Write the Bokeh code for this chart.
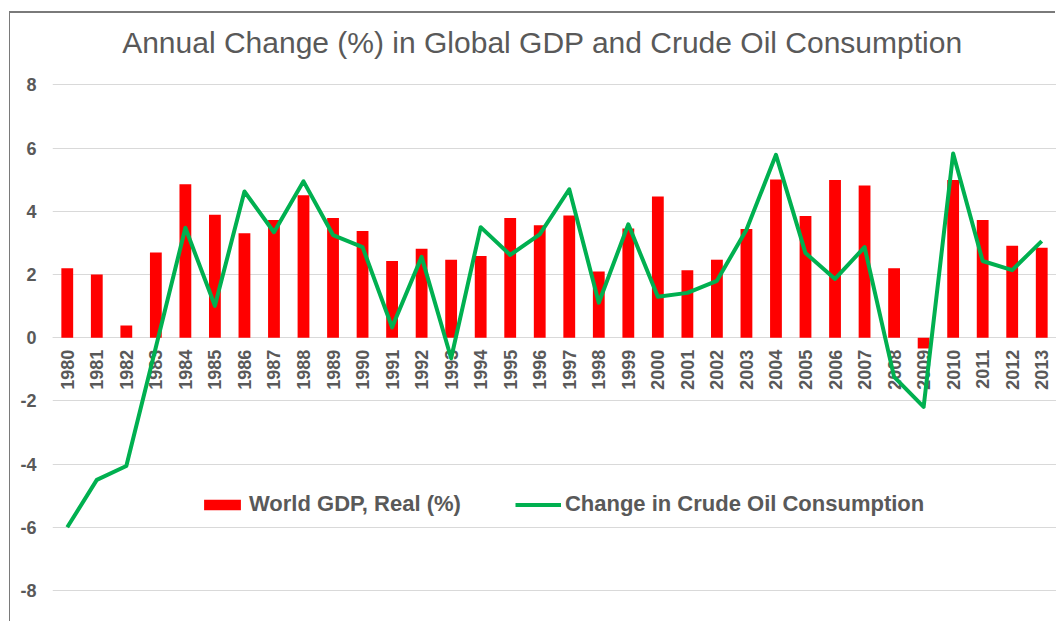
import math
from bokeh.plotting import figure
from bokeh.models import FactorRange, Range1d, FixedTicker, Label, Legend, LegendItem, PrintfTickFormatter
from bokeh.embed import file_html
from bokeh.resources import INLINE

years = ["1980", "1981", "1982", "1983", "1984", "1985", "1986", "1987", "1988", "1989",
         "1990", "1991", "1992", "1993", "1994", "1995", "1996", "1997", "1998", "1999",
         "2000", "2001", "2002", "2003", "2004", "2005", "2006", "2007", "2008", "2009",
         "2010", "2011", "2012", "2013"]

gdp = [2.20, 2.00, 0.39, 2.70, 4.86, 3.89, 3.31, 3.73, 4.51, 3.79,
       3.38, 2.43, 2.82, 2.47, 2.59, 3.79, 3.56, 3.87, 2.10, 3.46,
       4.47, 2.14, 2.47, 3.44, 5.01, 3.85, 4.99, 4.82, 2.20, -0.34,
       4.99, 3.73, 2.91, 2.85]

oil = [-6.00, -4.50, -4.06, -0.30, 3.48, 1.01, 4.63, 3.34, 4.95, 3.25,
       2.87, 0.33, 2.56, -0.65, 3.50, 2.62, 3.27, 4.70, 1.11, 3.59,
       1.30, 1.42, 1.80, 3.42, 5.79, 2.68, 1.86, 2.87, -1.24, -2.19,
       5.83, 2.43, 2.14, 3.06]

y_ticks = [-8, -6, -4, -2, 0, 2, 4, 6, 8]

title_text = "Annual Change (%) in Global GDP and Crude Oil Consumption"
gdp_label = "World GDP, Real (%)"
oil_label = "Change in Crude Oil Consumption"

GRAY = "#595959"
FONT = "Liberation Sans"

p = figure(width=1046, height=610,
           x_range=FactorRange(*years, range_padding=0),
           y_range=Range1d(-9.045, 10.263),
           output_backend="svg", toolbar_location=None,
           min_border_left=42, min_border_right=0,
           min_border_top=0, min_border_bottom=0,
           outline_line_color=None,
           background_fill_color="white", border_fill_color="white")

p.styles = {"box-shadow": "-1px -2px 0px 0px #7a7a7a",
            "margin-top": "13px",
            "margin-left": "10px"}

p.xgrid.visible = False
p.ygrid.grid_line_color = "#d9d9d9"
p.ygrid.grid_line_width = 1
p.ygrid.ticker = FixedTicker(ticks=y_ticks)

bars = p.vbar(x=years, top=gdp, width=0.4, color="#ff0000", line_color=None)
ln = p.line(x=years, y=oil, line_width=4, line_color="#00b050", line_join="round")

yax = p.yaxis[0]
yax.ticker = FixedTicker(ticks=y_ticks)
yax.formatter = PrintfTickFormatter(format="%d")
yax.axis_line_color = None
yax.major_tick_line_color = None
yax.minor_tick_line_color = None
yax.major_tick_out = 0
yax.major_tick_in = 0
yax.major_label_standoff = 16
yax.major_label_text_font = FONT
yax.major_label_text_font_style = "bold"
yax.major_label_text_font_size = "18px"
yax.major_label_text_color = GRAY

xax = p.xaxis[0]
xax.fixed_location = 0
xax.major_label_orientation = math.pi / 2
xax.axis_line_color = "#d9d9d9"
xax.major_tick_line_color = None
xax.minor_tick_line_color = None
xax.major_tick_out = 0
xax.major_tick_in = 0
xax.major_label_standoff = 12
xax.major_label_text_font = FONT
xax.major_label_text_font_style = "bold"
xax.major_label_text_font_size = "18px"
xax.major_label_text_color = GRAY
xax.level = "underlay"

title = Label(x=16.59, y=9.345, text=title_text, text_align="center",
              text_baseline="middle", text_font=FONT, text_font_size="30px",
              text_color=GRAY)
p.add_layout(title)

legend = Legend(items=[LegendItem(label=gdp_label, renderers=[bars]),
                       LegendItem(label=oil_label, renderers=[ln])],
                location=(147, 106), orientation="horizontal",
                glyph_width=46, glyph_height=13, label_standoff=4, spacing=54,
                padding=0, margin=0, border_line_color=None,
                background_fill_alpha=0,
                label_text_font=FONT, label_text_font_style="bold",
                label_text_font_size="22px", label_text_color=GRAY)
p.add_layout(legend)

open("out.html", "w").write(file_html(p, INLINE))
